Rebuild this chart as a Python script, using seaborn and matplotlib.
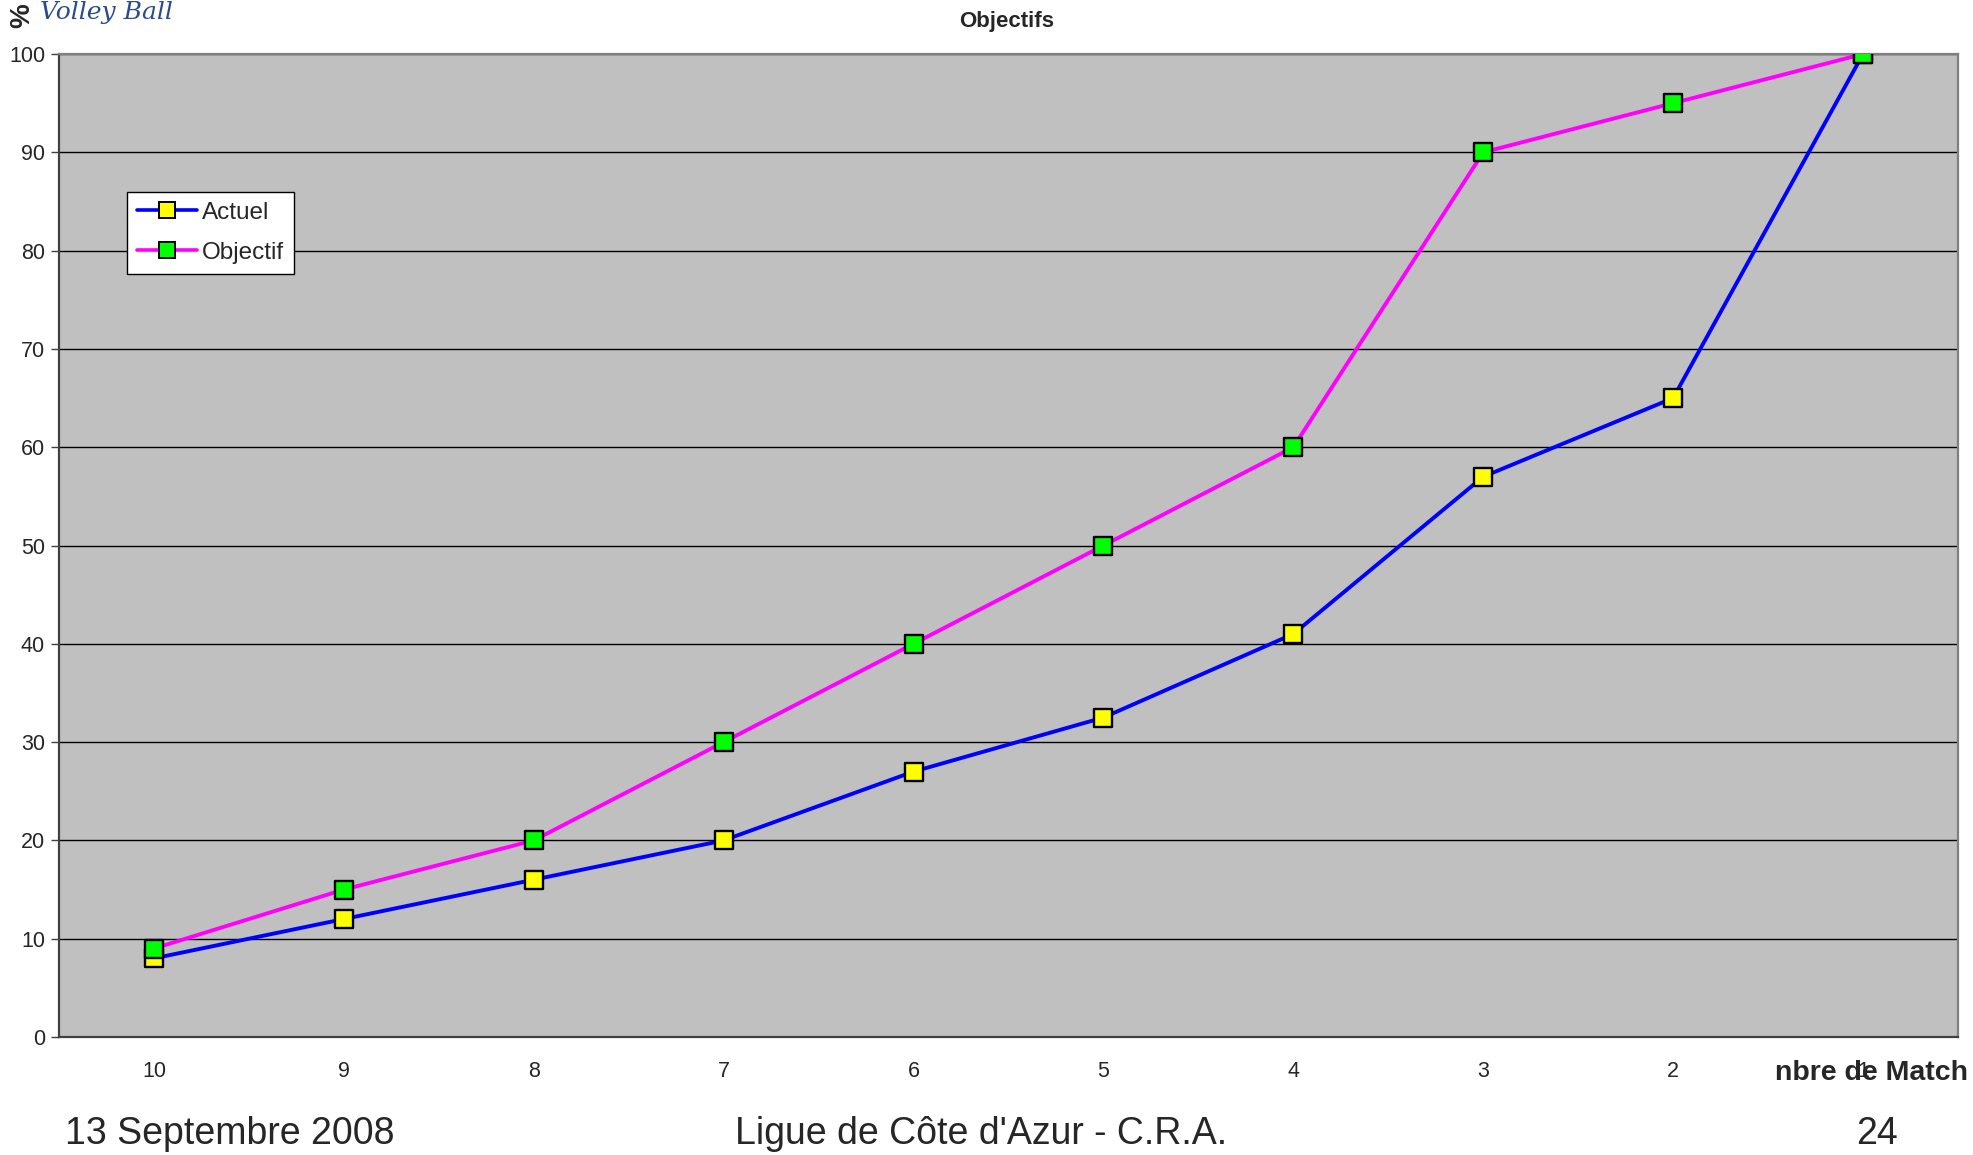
import matplotlib
matplotlib.use("Agg")
import matplotlib.pyplot as plt
import seaborn as sns
import pandas as pd
import numpy as np
from matplotlib.lines import Line2D

# ---- data ----
categories = ["10", "9", "8", "7", "6", "5", "4", "3", "2", "1"]
actuel = [8, 12, 16, 20, 27, 32.5, 41, 57, 65, 100]
objectif = [9, 15, 20, 30, 40, 50, 60, 90, 95, 100]
series_names = ["Actuel", "Objectif"]
y_ticks = [0, 10, 20, 30, 40, 50, 60, 70, 80, 90, 100]

sns.set_theme(style="white")
plt.rcParams['font.family'] = ['Liberation Sans', 'DejaVu Sans']

fig = plt.figure(figsize=(19.74, 11.55), dpi=100)
ax = fig.add_axes([59/1974, 1 - 1037/1155, (1958-59)/1974, (1037-54)/1155])
ax.set_facecolor("#C0C0C0")

pos = np.arange(len(categories))
df = pd.DataFrame({
    "pos": np.concatenate([pos, pos]),
    "val": actuel + objectif,
    "serie": [series_names[0]] * len(pos) + [series_names[1]] * len(pos),
})

sns.lineplot(data=df, x="pos", y="val", hue="serie",
             palette={"Actuel": "#0000FF", "Objectif": "#FF00FF"},
             linewidth=2.8, ax=ax, legend=False, zorder=3)
for name, fc in [("Actuel", "#FFFF00"), ("Objectif", "#00FF00")]:
    sub = df[df.serie == name]
    sns.scatterplot(x=sub["pos"], y=sub["val"], marker="s", s=175,
                    color=fc, edgecolor="black", linewidth=1.7, ax=ax, zorder=4)

ax.set_xlim(-0.5, len(categories) - 0.5)
ax.set_ylim(0, 100)
ax.set_yticks(y_ticks)
ax.set_xticks(pos)
ax.set_xticklabels(categories, fontsize=15.5)
ax.set_xticks(np.arange(-0.5, len(categories), 1.0), minor=True)
ax.tick_params(axis="x", which="major", length=0, pad=17)
ax.tick_params(axis="x", which="minor", length=6, width=1, color="#404040", direction="out")
ax.tick_params(axis="y", which="major", length=6, width=1, color="#404040", direction="out",
               labelsize=15.5, pad=4)
ax.tick_params(axis="both", bottom=True, left=True)
ax.grid(axis="y", color="black", linewidth=1.0)
ax.set_axisbelow(True)
for s in ["left", "bottom"]:
    ax.spines[s].set_color("#404040")
    ax.spines[s].set_linewidth(1.6)
for s in ["top", "right"]:
    ax.spines[s].set_color("#808080")
    ax.spines[s].set_linewidth(1.6)
ax.set_xlabel("")
ax.set_ylabel("")

handles = [
    Line2D([0], [0], color="#0000FF", lw=2.6, marker="s", markersize=11,
           markerfacecolor="#FFFF00", markeredgecolor="black", markeredgewidth=1.4),
    Line2D([0], [0], color="#FF00FF", lw=2.6, marker="s", markersize=11,
           markerfacecolor="#00FF00", markeredgecolor="black", markeredgewidth=1.4),
]
leg = ax.legend(handles, series_names, loc="upper left",
                bbox_to_anchor=((127-59)/1899, (1037-192)/983), borderaxespad=0,
                frameon=True, fancybox=False, edgecolor="black", facecolor="white",
                framealpha=1, fontsize=17.5, handlelength=2.5, handletextpad=0.2,
                labelspacing=0.75, borderpad=0.4)
leg.get_frame().set_linewidth(1.0)
leg.set_zorder(10)

# title
fig.text(1007/1974, 1 - 22/1155, "Objectifs", ha="center", va="center",
         fontsize=16, fontweight="bold")
# axis label at right
fig.text(1968/1974, 1 - 1073/1155, "nbre de Match", ha="right", va="center",
         fontsize=20.5, fontweight="bold")
# % label and logo (top-left corner)
fig.text(22/1974, 1 - 16/1155, "%", rotation=90, ha="center", va="center",
         fontsize=20, fontweight="bold")
fig.text(40/1974, 1 - 12/1155, "Volley Ball", ha="left", va="center",
         fontsize=18, fontstyle="italic", color="#2A4C8C", family=["DejaVu Serif"])

# footer
fig.text(65/1974, 1 - 1134/1155, "13 Septembre 2008", ha="left", va="center", fontsize=27)
fig.text(981/1974, 1 - 1134/1155, "Ligue de Côte d'Azur - C.R.A.", ha="center", va="center",
         fontsize=27)
fig.text(1877/1974, 1 - 1134/1155, "24", ha="center", va="center", fontsize=27)

fig.savefig("out.png", dpi=100)
